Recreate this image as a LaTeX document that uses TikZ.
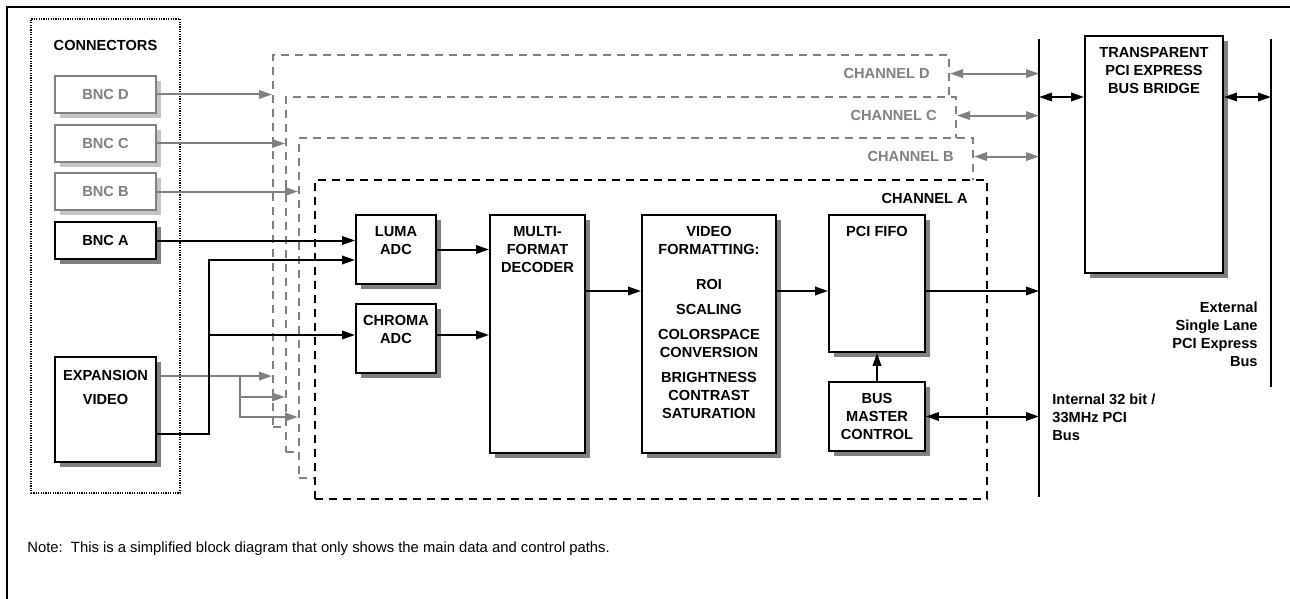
\documentclass[tikz,border=0pt]{standalone}
\usepackage{fontspec}
\setmainfont{Liberation Sans}
\usepackage{xcolor}
\usepackage{tikz}
\usetikzlibrary{arrows.meta,positioning,shadows}

\definecolor{chgray}{HTML}{808080}
\definecolor{shdark}{HTML}{808080}
\definecolor{shlight}{HTML}{C4C4C4}

\begin{document}
\begin{tikzpicture}[
        x=0.5pt, y=-0.5pt,
        >={Triangle[length=6.5pt,width=4.2pt]},
        font=\fontsize{7.3}{9}\selectfont\bfseries,
        boxbase/.style={rectangle, line width=0.9pt, fill=white, inner sep=0pt, align=center},
        block/.style={boxbase, draw=black, drop shadow={shadow xshift=2.5pt, shadow yshift=-2.5pt, fill=shdark, opacity=1}},
        gblock/.style={boxbase, draw=chgray, text=chgray, drop shadow={shadow xshift=2.5pt, shadow yshift=-2.5pt, fill=shlight, opacity=1}},
        chan/.style={rectangle, draw=chgray, line width=1pt, dash pattern=on 4pt off 3pt, fill=white, inner sep=0pt},
        chlabel/.style={inner sep=0pt, text=chgray},
        intext/.style={inner sep=0pt, align=center},
        arrow/.style={->, line width=1pt},
        garrow/.style={->, line width=1pt, draw=chgray},
        bus/.style={line width=1pt}
    ]
        \useasboundingbox (0,0) rectangle (1290,599);
        \draw[line width=1pt] (7,599) -- (7,7) -- (1290,7);

        % connectors
        \node[rectangle, draw, dash pattern=on 0.6pt off 0.6pt, line width=1pt, minimum width=74.5pt, minimum height=237pt] (conn) at (105.5,256) {};
        \node[intext, below=11pt of conn.north] (conntitle) {CONNECTORS};
        \node[gblock, minimum width=50.5pt, minimum height=18.5pt] (bncD) at (105.5,94.5) {BNC D};
        \node[gblock, minimum width=50.5pt, minimum height=18.5pt] (bncC) at (105.5,143.5) {BNC C};
        \node[gblock, minimum width=50.5pt, minimum height=18.5pt] (bncB) at (105.5,191.5) {BNC B};
        \node[block, minimum width=50.5pt, minimum height=18.5pt] (bncA) at (105.5,240.5) {BNC A};
        \node[block, minimum width=50.5pt, minimum height=52.5pt] (exp) at (105.5,409.5) {};
        \node[intext, below=7pt of exp.north] (expt) {EXPANSION\\[3pt]VIDEO};

        % channels
        \node[chan, minimum width=338pt, minimum height=186pt] (chD) at (611,241) {};
        \node[chlabel, below left=7pt and 10pt of chD.north east] (labD) {CHANNEL D};
        \node[chan, minimum width=335pt, minimum height=177.5pt] (chC) at (621,274.5) {};
        \node[chlabel, below left=7pt and 10pt of chC.north east] (labC) {CHANNEL C};
        \node[chan, minimum width=337pt, minimum height=170pt] (chB) at (636,308) {};
        \node[chlabel, below left=7pt and 10pt of chB.north east] (labB) {CHANNEL B};
        \node[chan, draw=black, minimum width=336pt, minimum height=159.5pt] (chA) at (651,339.5) {};
        \node[chlabel, text=black, below left=7pt and 10pt of chA.north east] (labA) {CHANNEL A};

        % channel A blocks
        \node[block, minimum width=40pt, minimum height=34.5pt] (luma) at (396,249.5) {};
        \node[intext, below=6pt of luma.north] (lumat) {LUMA\\ADC};
        \node[block, minimum width=40pt, minimum height=34.5pt] (chroma) at (396,338.5) {};
        \node[intext, below=6pt of chroma.north] (chromat) {CHROMA\\ADC};
        \node[block, minimum width=47.5pt, minimum height=119pt] (dec) at (537.5,334) {};
        \node[intext, below=6pt of dec.north] (dect) {MULTI-\\FORMAT\\DECODER};
        \node[block, minimum width=67pt, minimum height=119pt] (vfmt) at (709,334) {};
        \node[intext, below=6pt of vfmt.north] (vfmtt) {VIDEO\\FORMATTING:\\[8.5pt]ROI\\[3.5pt]SCALING\\[3.5pt]COLORSPACE\\CONVERSION\\[3.5pt]BRIGHTNESS\\CONTRAST\\SATURATION};
        \node[block, minimum width=48pt, minimum height=68.5pt] (fifo) at (877,283.5) {};
        \node[intext, below=6pt of fifo.north] (fifot) {PCI FIFO};
        \node[block, minimum width=48pt, minimum height=34.5pt] (bmc) at (877,416.5) {BUS\\MASTER\\CONTROL};

        % bridge and buses
        \node[block, minimum width=69pt, minimum height=118.5pt] (bridge) at (1154,154.5) {};
        \node[intext, below=6pt of bridge.north] (bridget) {TRANSPARENT\\PCI EXPRESS\\BUS BRIDGE};
        \coordinate (ibtop) at (1039,39);
        \coordinate (ibbot) at (1039,497);
        \coordinate (ebtop) at (1271,39);
        \coordinate (ebbot) at (1271,387);
        \draw[bus] (ibtop) -- (ibbot);
        \draw[bus] (ebtop) -- (ebbot);
        \node[anchor=west, inner sep=0pt, align=left] (ibtxt) at (1052,417) {Internal 32 bit /\\33MHz PCI\\Bus};
        \node[anchor=east, inner sep=0pt, align=right] (ebtxt) at (1258,334.5) {External\\Single Lane\\PCI Express\\Bus};

        \node[anchor=west, inner sep=0pt, font=\fontsize{7.4}{9}\selectfont] (note) at (27,549) {Note:\ \ This is a simplified block diagram that only shows the main data and control paths.};

        % gray inputs
        \draw[garrow] (bncD.east) -- (chD.west |- bncD.east);
        \draw[garrow] (bncC.east) -- (chC.west |- bncC.east);
        \draw[garrow] (bncB.east) -- (chB.west |- bncB.east);
        \coordinate (expg) at ([yshift=-10pt]exp.north east);
        \coordinate (gsplit) at (240,377);
        \coordinate (g2) at (240,397);
        \coordinate (g3) at (240,417);
        \draw[garrow] (expg) -- (chD.west |- expg);
        \draw[garrow] (gsplit) |- (chC.west |- g2);
        \draw[garrow] (gsplit) |- (chB.west |- g3);

        % black inputs
        \draw[arrow] (bncA.east) -- (luma.west |- bncA.east);
        \coordinate (expb) at ([yshift=14.5pt]exp.south east);
        \coordinate (ltap) at (209,260);
        \coordinate (ctap) at (209,335);
        \draw[arrow] (expb) -| (ltap) -- (luma.west |- ltap);
        \draw[arrow] (ctap) -- (chroma.west |- ctap);

        % data path
        \coordinate (datay) at (0,291);
        \draw[arrow] (luma.east) -- (dec.west |- luma.east);
        \draw[arrow] (chroma.east |- ctap) -- (dec.west |- ctap);
        \draw[arrow] (dec.east |- datay) -- (vfmt.west |- datay);
        \draw[arrow] (vfmt.east |- datay) -- (fifo.west |- datay);
        \draw[arrow] (fifo.east |- datay) -- (ibtop |- datay);
        \draw[arrow] (bmc.north) -- (fifo.south);
        \draw[arrow, <->] (bmc.east) -- (ibtop |- bmc.east);

        % channels B-D to bus
        \draw[garrow, <->] (chD.east |- labD) -- (ibtop |- labD);
        \draw[garrow, <->] (chC.east |- labC) -- (ibtop |- labC);
        \draw[garrow, <->] (chB.east |- labB) -- (ibtop |- labB);

        % bridge links
        \coordinate (bry) at (0,97);
        \draw[arrow, <->] (ibtop |- bry) -- (bridge.west |- bry);
        \draw[arrow, <->] (bridge.east |- bry) -- (ebtop |- bry);
    \end{tikzpicture}
\end{document}
